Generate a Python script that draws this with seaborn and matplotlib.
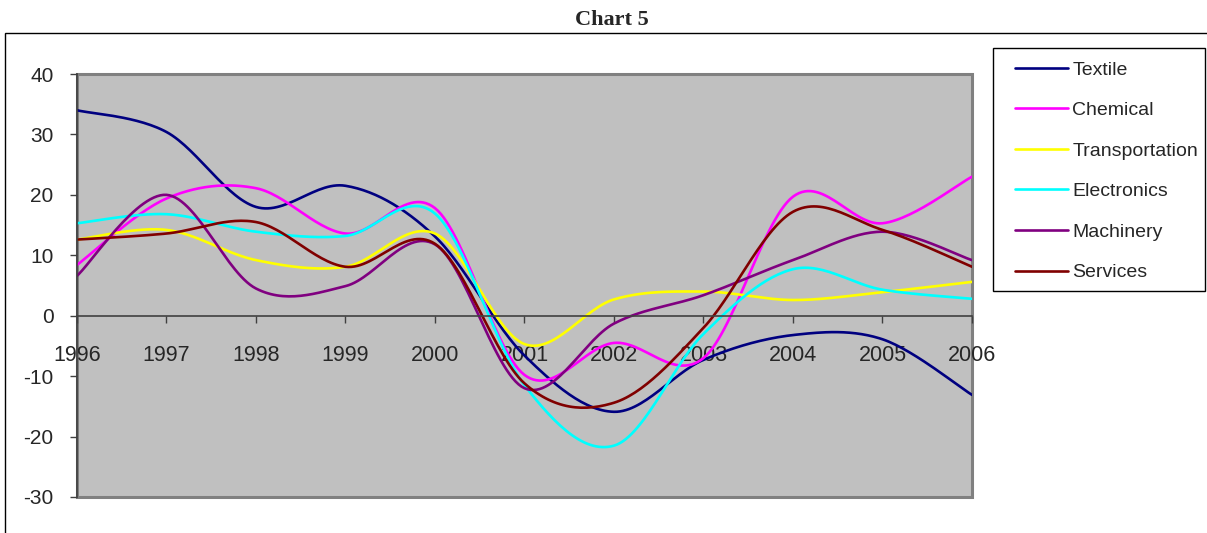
import matplotlib.pyplot as plt
import numpy as np
import pandas as pd
import seaborn as sns
from matplotlib.patches import Rectangle

years = [1996, 1997, 1998, 1999, 2000, 2001, 2002, 2003, 2004, 2005, 2006]
textile = [34.0, 30.4, 18.0, 21.5, 13.1, -6.6, -15.9, -7.3, -3.2, -3.9, -13.1]
chemical = [8.4, 19.4, 21.1, 13.6, 17.8, -9.8, -4.5, -7.0, 19.7, 15.3, 23.0]
transportation = [12.6, 14.2, 9.2, 8.1, 13.6, -4.7, 2.7, 4.0, 2.6, 3.9, 5.6]
electronics = [15.3, 16.8, 13.9, 13.2, 16.9, -11.5, -21.5, -3.0, 7.7, 4.3, 2.8]
machinery = [6.6, 20.0, 4.5, 4.9, 11.8, -12.0, -1.3, 3.4, 9.2, 13.9, 9.2]
services = [12.6, 13.6, 15.5, 8.1, 11.9, -11.2, -14.4, -2.0, 17.2, 14.2, 8.1]

sectors = ['Textile', 'Chemical', 'Transportation', 'Electronics', 'Machinery', 'Services']
series = [textile, chemical, transportation, electronics, machinery, services]
colors = ['#000080', '#FF00FF', '#FFFF00', '#00FFFF', '#800080', '#800000']


def smooth_curve(xs, ys, steps=30):
    '''excel-like smoothed line: bezier segments through every data point'''
    pts = np.column_stack([xs, ys]).astype(float)
    n = len(pts)
    out = []
    for i in range(n - 1):
        p0 = pts[max(i - 1, 0)]
        p1 = pts[i]
        p2 = pts[i + 1]
        p3 = pts[min(i + 2, n - 1)]
        c1 = p1 + (p2 - p0) / 6
        c2 = p2 - (p3 - p1) / 6
        t = np.linspace(0, 1, steps, endpoint=(i == n - 2))[:, None]
        seg = ((1 - t) ** 3) * p1 + 3 * ((1 - t) ** 2) * t * c1 + 3 * (1 - t) * t ** 2 * c2 + t ** 3 * p2
        out.append(seg)
    out = np.vstack(out)
    return out[:, 0], out[:, 1]


frames = []
for name, vals in zip(sectors, series):
    sx, sy = smooth_curve(years, vals)
    frames.append(pd.DataFrame({'year': sx, 'value': sy, 'sector': name}))
df = pd.concat(frames, ignore_index=True)

sns.set_style('white')
plt.rcParams['font.family'] = ['Liberation Sans', 'DejaVu Sans']
plt.rcParams['axes.unicode_minus'] = False

W, H = 1207, 533
fig = plt.figure(figsize=(W / 100, H / 100), dpi=100)
ax = fig.add_axes([77 / W, 36 / H, (972 - 77) / W, (497 - 74) / H])
ax.set_facecolor('#C0C0C0')

sns.lineplot(data=df, x='year', y='value', hue='sector', hue_order=sectors,
             palette=colors, linewidth=1.9, estimator=None, sort=False, ax=ax)

ax.set_xlim(1996, 2006)
ax.set_ylim(-30, 40)
ax.set_xticks(years)
ax.set_xticklabels([str(y) for y in years])
ax.set_yticks(range(-30, 41, 10))
ax.set_xlabel('')
ax.set_ylabel('')

# x axis sits at zero, plot area framed in grey
ax.spines['bottom'].set_position(('data', 0))
ax.spines['bottom'].set_color('#404040')
ax.spines['bottom'].set_linewidth(1.2)
ax.spines['left'].set_color('#404040')
ax.spines['left'].set_linewidth(1.2)
ax.spines['top'].set_visible(False)
ax.spines['right'].set_visible(False)
ax.add_patch(Rectangle((0, 0), 1, 1, transform=ax.transAxes, fill=False,
                       edgecolor='#808080', linewidth=2.2, clip_on=False, zorder=0.5))
ax.tick_params(axis='x', direction='out', length=5, width=1, color='#404040',
               pad=16, labelsize=15.5, bottom=True)
ax.tick_params(axis='y', direction='out', length=5, width=1, color='#404040',
               pad=12, labelsize=15, left=True)

handles, labels = ax.get_legend_handles_labels()
ax.legend(handles, labels, loc='upper left', bbox_to_anchor=(1015 / W, 1 - 61 / H),
          bbox_transform=fig.transFigure, frameon=False, fontsize=14,
          handlelength=2.75, handletextpad=0.2, labelspacing=1.18,
          borderpad=0, borderaxespad=0)
fig.add_artist(Rectangle((993 / W, 1 - 291 / H), (1205 - 993) / W, (291 - 48) / H,
                         transform=fig.transFigure, fill=False, edgecolor='#000000',
                         linewidth=1))

# outer chart border
fig.add_artist(Rectangle((5 / W, -0.5), 2, 1.5 - 33 / H, transform=fig.transFigure,
                         fill=False, edgecolor='#000000', linewidth=1))

fig.text(612 / W, 1 - 20 / H, 'Chart 5', ha='center', va='center', fontsize=16,
         fontweight='bold', family=['Liberation Serif', 'DejaVu Serif'])

fig.savefig('out.png', dpi=100)
